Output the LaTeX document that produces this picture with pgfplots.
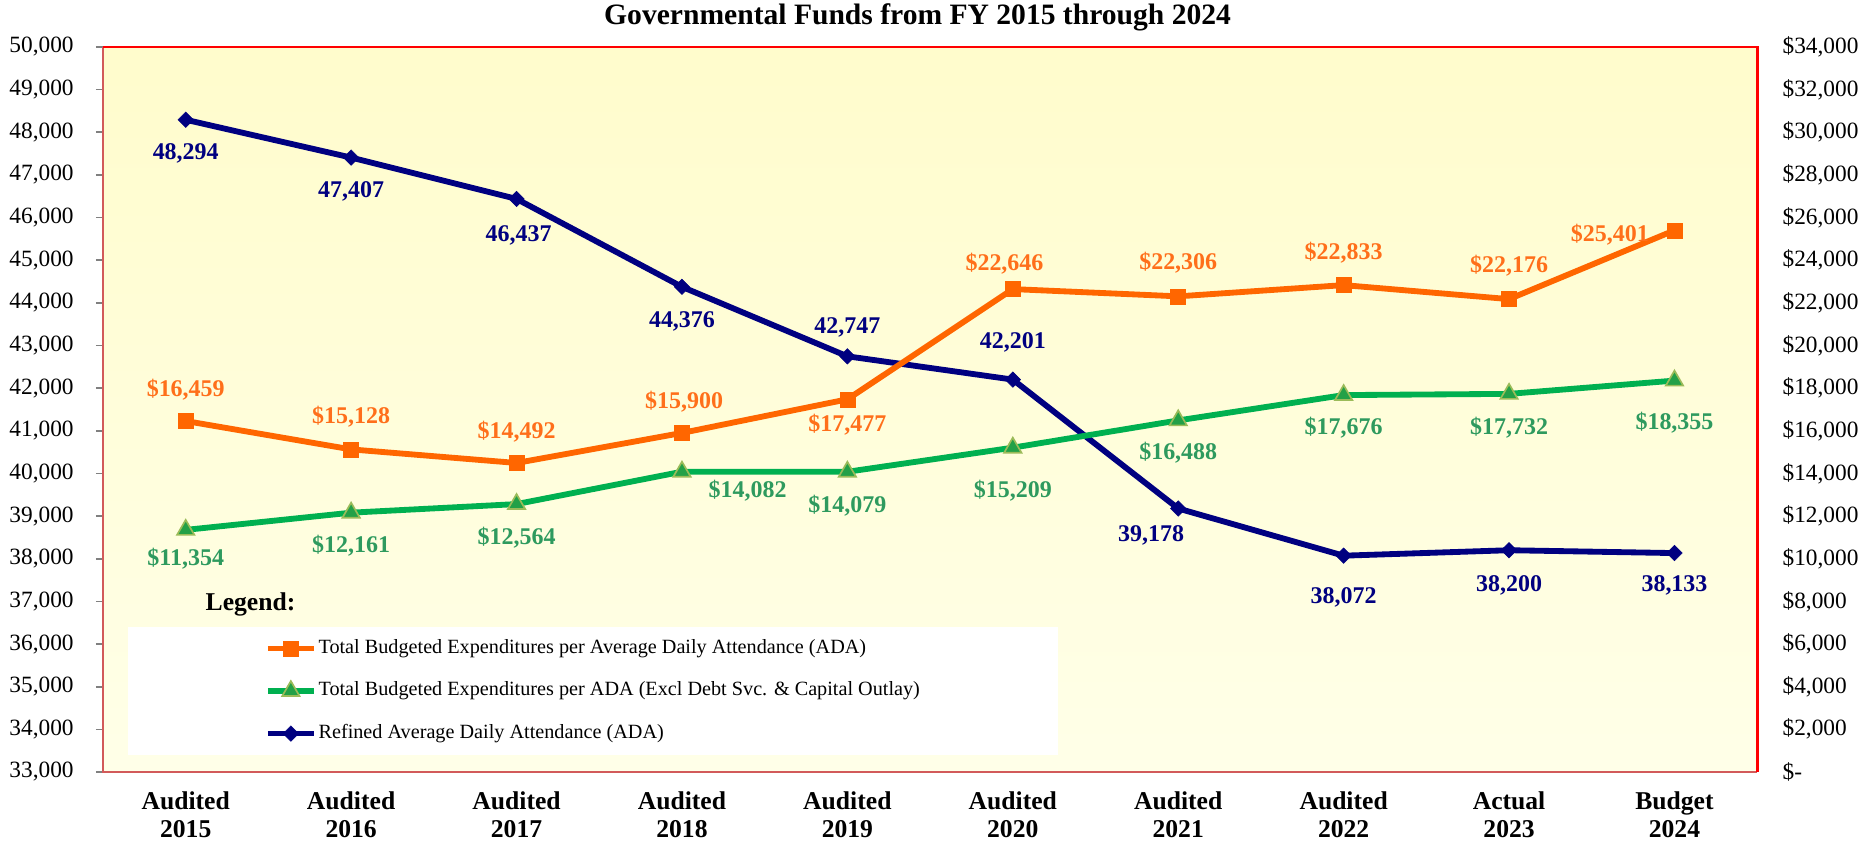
\documentclass[border=0pt]{standalone}
\usepackage{fontspec}
\setmainfont{Liberation Serif}
\usepackage{pgfplots}
\usepackage{pgfplotstable}
\pgfplotsset{compat=1.18}

\definecolor{adanavy}{HTML}{000080}
\definecolor{exporange}{HTML}{FF6600}
\definecolor{expgreen}{HTML}{00B050}
\definecolor{trifill}{HTML}{23A047}
\definecolor{triedge}{HTML}{9BBB59}
\definecolor{greenlbl}{HTML}{2E9A5E}
\definecolor{orangelbl}{HTML}{FF6F1A}
\definecolor{bgtop}{HTML}{FFFCCC}
\definecolor{bgbot}{HTML}{FFFFE8}
\definecolor{leftedge}{HTML}{D25A5A}

% x = year index, dx/dy = label offset in pt
\pgfplotstableread{
x y dx dy
0 48294 0 -16
1 47407 0 -16
2 46437 1 -17.5
3 44376 0 -16.5
4 42747 0 14
5 42201 0 18
6 39178 -13 -13
7 38072 0 -20
8 38200 0 -17
9 38133 0 -15.5
}\adatab

\pgfplotstableread{
x y dx dy
0 16459 0 15
1 15128 0 15.5
2 14492 0 15
3 15900 1 15
4 17477 0 -12
5 22646 -4 12
6 22306 0 16
7 22833 0 15.5
8 22176 0 16
9 25401 -31 -2
}\totaltab

\pgfplotstableread{
x y dx dy
0 11354 0 -14
1 12161 0 -16
2 12564 0 -16
3 14082 31.5 -9
4 14079 0 -16.5
5 15209 0 -20.5
6 16488 0 -15.5
7 17676 0 -15.5
8 17732 0 -16
9 18355 0 -20
}\excltab

\pgfplotsset{
  base/.style={
    scale only axis, width=794pt, height=348pt,
    at={(0pt,0pt)}, anchor=south west,
    xmin=-0.5, xmax=9.5, clip=false,
    scaled ticks=false,
    axis line style={draw=none},
    /pgf/number format/fixed,
    /pgf/number format/precision=0,
    /pgf/number format/1000 sep={,},
    /pgf/number format/assume math mode=true,
  },
  offsets/.style={
    visualization depends on={\thisrow{dx} \as \ldx},
    visualization depends on={\thisrow{dy} \as \ldy},
    nodes near coords,
    every node near coord/.append style={anchor=center, xshift=\ldx pt, yshift=\ldy pt,
      font=\bfseries\fontsize{11.5}{13}\selectfont, text=#1},
  },
  navystyle/.style={adanavy, line width=2.8pt, mark=square*, mark size=2.6pt,
    mark options={rotate=45, line width=0.3pt, fill=adanavy}},
  orangestyle/.style={exporange, line width=2.8pt, mark=square*, mark size=3.6pt,
    mark options={line width=0.3pt, fill=exporange}},
  greenstyle/.style={expgreen, line width=2.8pt, mark=triangle*, mark size=4.8pt,
    mark options={line width=0.8pt, fill=trifill, draw=triedge}},
}

\begin{document}
\begin{tikzpicture}
\useasboundingbox (-49.44pt,-35.52pt) rectangle (850.56pt,370.56pt);

\begin{axis}[base,
  ymin=33000, ymax=50000, ytick={33000,34000,...,50000},
  ytick pos=left, yticklabel pos=left,
  tick align=outside, major tick length=3.4pt,
  y tick style={gray, line width=0.8pt},
  yticklabel style={font=\fontsize{11.2}{13}\selectfont, anchor=east, inner sep=0pt, xshift=-10.5pt},
  xtick={0,...,9},
  xticklabels={{Audited\\2015},{Audited\\2016},{Audited\\2017},{Audited\\2018},{Audited\\2019},
    {Audited\\2020},{Audited\\2021},{Audited\\2022},{Actual\\2023},{Budget\\2024}},
  x tick style={draw=none},
  xticklabel style={align=center, font=\bfseries\fontsize{12.3}{13.2}\selectfont, anchor=north, inner sep=0pt, yshift=-6pt},
  axis background/.style={shade, top color=bgtop, bottom color=bgbot},
]
\fill[white] (rel axis cs:0.01511,0.02356) rectangle (rel axis cs:0.5773,0.2);
\node[font=\bfseries\fontsize{12.3}{14}\selectfont] at (rel axis cs:0.0892,0.2316) {Legend:};

\addplot[navystyle, offsets=adanavy, forget plot] table[x=x, y=y] {\adatab};
\end{axis}

\begin{axis}[base,
  ymin=0, ymax=34000, ytick={0,2000,...,34000},
  yticklabels={{\$-},{\$2,000},{\$4,000},{\$6,000},{\$8,000},{\$10,000},{\$12,000},{\$14,000},{\$16,000},
    {\$18,000},{\$20,000},{\$22,000},{\$24,000},{\$26,000},{\$28,000},{\$30,000},{\$32,000},{\$34,000}},
  ytick pos=right, yticklabel pos=right, major tick length=0pt,
  yticklabel style={font=\fontsize{11.2}{13}\selectfont, anchor=west, inner sep=0pt, xshift=12pt},
  xtick=\empty,
  legend image code/.code={
    \draw[mark repeat=2, mark phase=2, #1] plot coordinates {(0pt,0pt) (11pt,0pt) (22pt,0pt)};
  },
  legend cell align=left,
  legend style={at={(0.0977,0.1846)}, anchor=north west, draw=none, fill=none,
    inner sep=0pt, row sep=10.9pt,
    font=\fontsize{9.7}{11}\selectfont,
    nodes={inner sep=0pt, text height=7pt, text depth=2.5pt},
    /tikz/every odd column/.append style={column sep=0.9pt}},
]
\addplot[orangestyle, offsets=orangelbl, forget plot,
  nodes near coords={\$\pgfmathprintnumber{\pgfplotspointmeta}}]
  table[x=x, y=y] {\totaltab};
\addplot[greenstyle, offsets=greenlbl, forget plot,
  nodes near coords={\$\pgfmathprintnumber{\pgfplotspointmeta}}]
  table[x=x, y=y] {\excltab};

\addlegendimage{orangestyle}
\addlegendentry{Total Budgeted Expenditures per Average Daily Attendance (ADA)}
\addlegendimage{greenstyle}
\addlegendentry{Total Budgeted Expenditures per ADA (Excl Debt Svc. \& Capital Outlay)}
\addlegendimage{navystyle}
\addlegendentry{Refined Average Daily Attendance (ADA)}
\end{axis}

\draw[leftedge, line width=1.4pt] (0pt,348pt) -- (0pt,0pt) -- (794pt,0pt);
\draw[red, line width=1.4pt] (0pt,348pt) -- (794pt,348pt) -- (794pt,0pt);

\node[font=\bfseries\fontsize{14.2}{17}\selectfont] at (391pt,362.4pt)
  {Governmental Funds from FY 2015 through 2024};
\end{tikzpicture}
\end{document}
